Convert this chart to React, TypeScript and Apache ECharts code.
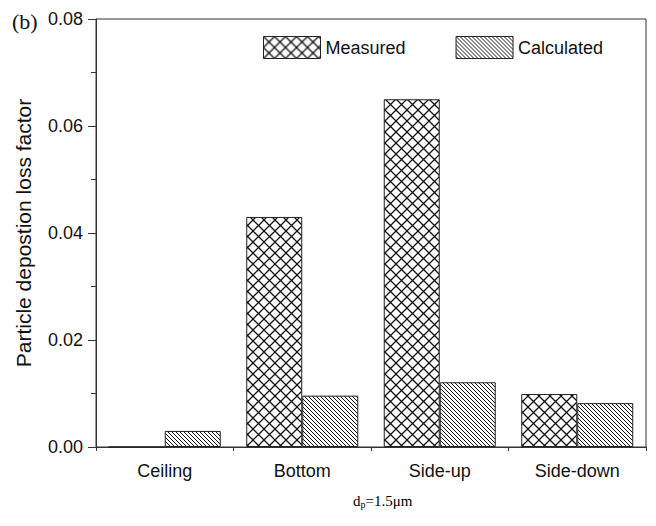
import React, { useEffect, useRef } from "react";
import * as echarts from "echarts";

const categories = ["Ceiling", "Bottom", "Side-up", "Side-down"];
const measured = [0, 0.043, 0.065, 0.0099];
const calculated = [0.003, 0.0096, 0.0121, 0.0082];
const seriesNames = ["Measured", "Calculated"];

const crossSvg =
  "data:image/svg+xml;charset=utf-8," +
  encodeURIComponent(
    '<svg xmlns="http://www.w3.org/2000/svg" width="11" height="11"><rect width="11" height="11" fill="#fff"/><path d="M-1,-1L12,12M-1,12L12,-1" stroke="#111" stroke-width="1.3"/></svg>'
  );
const hatchSvg =
  "data:image/svg+xml;charset=utf-8," +
  encodeURIComponent(
    '<svg xmlns="http://www.w3.org/2000/svg" width="4" height="4"><rect width="4" height="4" fill="#fff"/><path d="M-1,-1L5,5M-1,3L1,5M3,-1L5,1" stroke="#111" stroke-width="1"/></svg>'
  );

export default function App() {
  const ref = useRef<HTMLDivElement>(null);
  useEffect(() => {
    const chart = echarts.init(ref.current!, null, { renderer: "svg" });
    const crossPattern = { image: crossSvg, repeat: "repeat", imageWidth: 11, imageHeight: 11 } as any;
    const hatchPattern = { image: hatchSvg, repeat: "repeat", imageWidth: 4, imageHeight: 4 } as any;
    const sans = "Liberation Sans, Arial, sans-serif";
    const serif = "Liberation Serif, Times New Roman, serif";
    chart.setOption({
      animation: false,
      backgroundColor: "#fff",
      grid: {
        left: 96,
        right: 10,
        top: 19,
        bottom: 79,
        show: true,
        borderColor: "#333",
        borderWidth: 1,
        containLabel: false,
      },
      legend: {
        left: 258,
        top: 31,
        itemWidth: 57,
        itemHeight: 22,
        itemGap: 50,
        icon: "rect",
        textStyle: { fontFamily: sans, fontSize: 18, color: "#111" },
        itemStyle: { borderColor: "#222", borderWidth: 1 },
        data: seriesNames,
      },
      graphic: [
        {
          type: "text",
          left: 12,
          top: 10,
          style: { text: "(b)", fontFamily: serif, fontSize: 22, fill: "#111" },
        },
        {
          type: "text",
          left: 353,
          top: 493,
          style: {
            text: "{d|d}{p|p}{d|=1.5μm}",
            rich: {
              d: { fontFamily: serif, fontSize: 15, color: "#111" },
              p: { fontFamily: serif, fontSize: 10, color: "#111", padding: [8, 0, 0, 0] },
            },
          },
        },
      ],
      xAxis: [
        {
          type: "category",
          data: categories,
          axisLine: { lineStyle: { color: "#333", width: 1 } },
          axisTick: { alignWithLabel: true, length: 8, lineStyle: { color: "#333" } },
          axisLabel: { fontFamily: sans, fontSize: 18, color: "#111", margin: 15 },
        },
        {
          type: "category",
          data: categories,
          position: "bottom",
          axisLine: { show: false },
          axisTick: { show: true, length: 4, lineStyle: { color: "#333" } },
          axisLabel: { show: false },
        },
      ],
      yAxis: {
        type: "value",
        min: 0,
        max: 0.08,
        interval: 0.02,
        name: "Particle depostion loss factor",
        nameLocation: "middle",
        nameGap: 62,
        nameTextStyle: { fontFamily: sans, fontSize: 21, color: "#111" },
        axisLine: { show: true, lineStyle: { color: "#333", width: 1 } },
        axisTick: { show: true, length: 8, lineStyle: { color: "#333" } },
        minorTick: { show: true, splitNumber: 2, length: 5, lineStyle: { color: "#333" } },
        splitLine: { show: false },
        axisLabel: {
          fontFamily: sans,
          fontSize: 18,
          color: "#111",
          margin: 13,
          formatter: (v: number) => v.toFixed(2),
        },
      },
      series: [
        {
          name: seriesNames[0],
          type: "bar",
          data: measured,
          barWidth: 56,
          barGap: "0%",
          itemStyle: { color: crossPattern, borderColor: "#222", borderWidth: 1 },
        },
        {
          name: seriesNames[1],
          type: "bar",
          data: calculated,
          barWidth: 56,
          barGap: "0%",
          itemStyle: { color: hatchPattern, borderColor: "#222", borderWidth: 1 },
        },
      ],
    });
    return () => chart.dispose();
  }, []);
  return <div ref={ref} style={{ width: 656, height: 526, position: "absolute", left: 0, top: 0 }} />;
}
